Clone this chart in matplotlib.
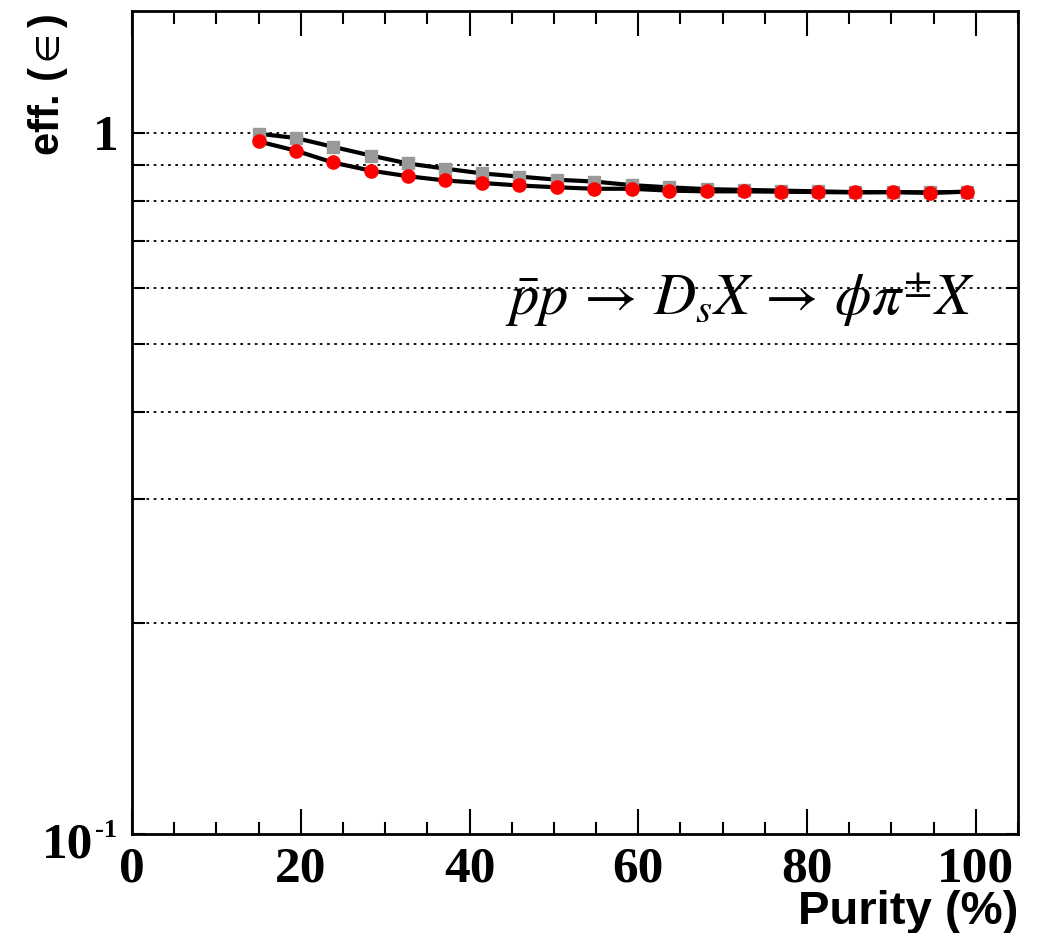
import matplotlib
matplotlib.use("Agg")
import matplotlib.pyplot as plt
from matplotlib.ticker import FixedLocator, NullFormatter, MultipleLocator

plt.rcParams['mathtext.fontset'] = 'stix'

purity = [15.0, 19.4, 23.8, 28.3, 32.7, 37.1, 41.5, 45.9, 50.4, 54.8,
          59.2, 63.6, 68.1, 72.5, 76.9, 81.3, 85.7, 90.2, 94.6, 99.0]
eff_gray = [0.997, 0.983, 0.955, 0.928, 0.904, 0.889, 0.875, 0.866, 0.857, 0.852,
            0.842, 0.836, 0.831, 0.829, 0.827, 0.825, 0.823, 0.823, 0.822, 0.824]
eff_red = [0.972, 0.943, 0.907, 0.883, 0.867, 0.855, 0.848, 0.841, 0.836, 0.832,
           0.832, 0.827, 0.825, 0.825, 0.824, 0.823, 0.822, 0.823, 0.821, 0.824]
y_tick_labels = ['', '1']

W, H = 1039, 933
fig = plt.figure(figsize=(W / 100, H / 100), dpi=100)
x0, x1, y0, y1 = 132, 1018, 834, 10.5
ax = fig.add_axes([x0 / W, 1 - y0 / H, (x1 - x0) / W, (y0 - y1) / H])

ax.set_yscale('log')
ax.set_xlim(0, 105)
ax.set_ylim(0.1, 1.494)

# grid lines (horizontal, dotted)
for g in [0.2, 0.3, 0.4, 0.5, 0.6, 0.7, 0.8, 0.9, 1.0]:
    ax.axhline(g, color='black', lw=1.3, ls=(0, (1.5, 2.5)), zorder=1)

ax.plot(purity, eff_gray, color='black', lw=3, zorder=2)
ax.plot(purity, eff_red, color='black', lw=3, zorder=2)
ax.plot(purity, eff_gray, ls='none', marker='s', ms=9.3, color='#999999',
        mec='#999999', zorder=3)
ax.plot(purity, eff_red, ls='none', marker='o', ms=9.5, color='#ff0000',
        mec='#ff0000', zorder=4)

# ticks
ax.xaxis.set_major_locator(MultipleLocator(20))
ax.xaxis.set_minor_locator(MultipleLocator(5))
ax.yaxis.set_major_locator(FixedLocator([0.1, 1.0]))
ax.yaxis.set_minor_locator(FixedLocator([0.2, 0.3, 0.4, 0.5, 0.6, 0.7, 0.8, 0.9]))
ax.yaxis.set_minor_formatter(NullFormatter())
ax.set_yticklabels(y_tick_labels)
ax.tick_params(axis='both', which='both', direction='in', top=True, right=True,
               width=1.5, colors='black')
ax.tick_params(axis='x', which='major', length=18, pad=9)
ax.tick_params(axis='x', which='minor', length=9)
ax.tick_params(axis='y', which='major', length=9, pad=10)
ax.tick_params(axis='y', which='minor', length=9)
for lab in ax.get_xticklabels() + ax.get_yticklabels():
    lab.set_fontfamily('Liberation Serif')
    lab.set_fontweight('bold')
    lab.set_fontsize(37)

# "10^-1" label drawn as text pieces (ROOT style)
fig.text(93 / W, 1 - 857 / H, '10', ha='right', va='baseline', fontsize=37,
         fontweight='bold', family='Liberation Serif')
fig.text(95 / W, 1 - 837 / H, '-1', ha='left', va='baseline', fontsize=19,
         fontweight='bold', family='Liberation Serif')

for sp in ax.spines.values():
    sp.set_linewidth(2)

ax.text(99.9, 0.550,
        r'$\bar{p}p\,\rightarrow\,D_s X\,\rightarrow\,\phi\pi^{\pm} X$',
        ha='right', va='baseline', fontsize=42, zorder=5)

fig.text(x1 / W, 1 - 924 / H, 'Purity (%)', ha='right', va='baseline',
         fontsize=34, fontweight='bold', family=['Liberation Sans', 'DejaVu Sans'])
fig.text(48 / W, 1 - 14 / H, r'eff. ($\in$)', ha='center', va='top', rotation=90,
         fontsize=30, fontweight='bold', family=['Liberation Sans', 'DejaVu Sans'])

fig.savefig('out.png', dpi=100)
